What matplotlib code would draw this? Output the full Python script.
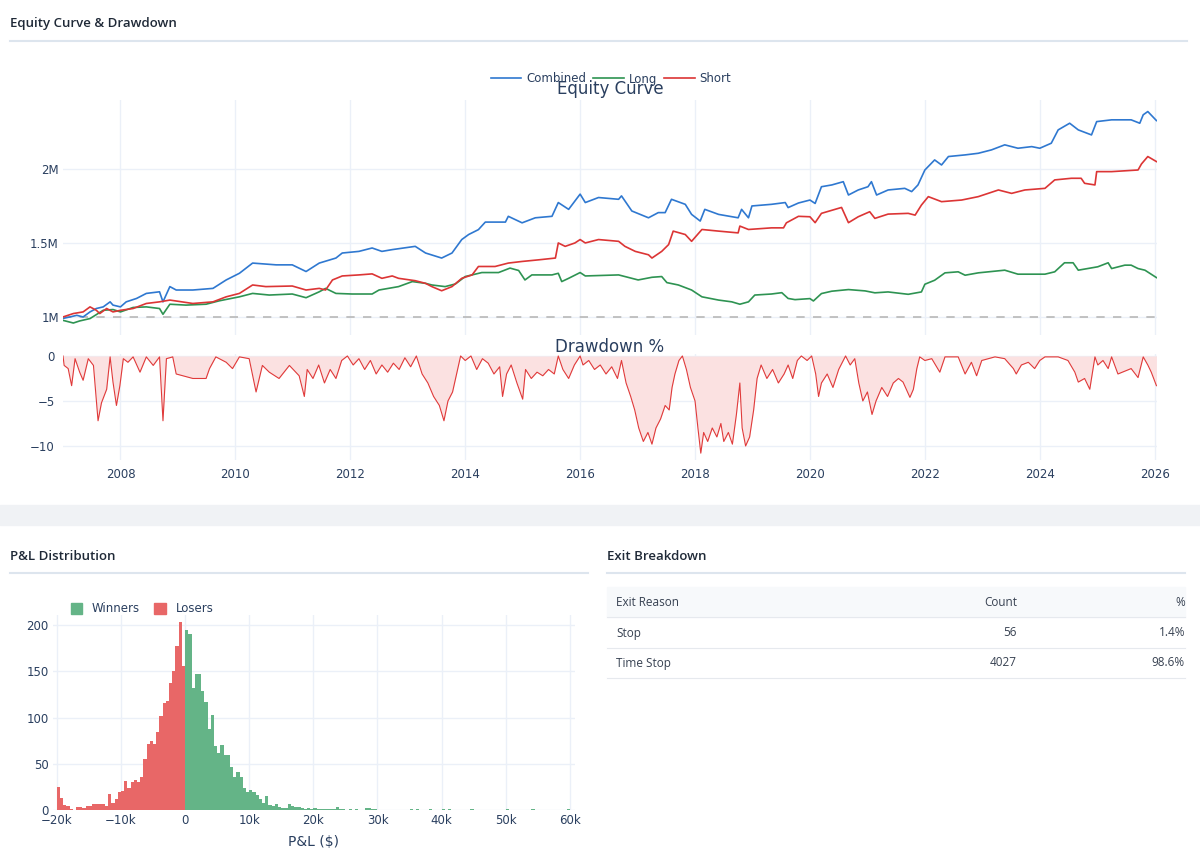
import matplotlib.pyplot as plt
from matplotlib.lines import Line2D
from matplotlib.patches import Patch, Rectangle

# ---- equity curves (value in $M, x in fractional years) ----
COMBINED_T = [2007.0, 2007.12, 2007.24, 2007.35, 2007.47, 2007.58, 2007.70, 2007.82, 2007.87, 2008.0,
              2008.10, 2008.28, 2008.45, 2008.68, 2008.74, 2008.86, 2008.97, 2009.26, 2009.61, 2009.84,
              2010.07, 2010.30, 2010.71, 2010.99, 2011.23, 2011.46, 2011.75, 2011.86, 2012.15, 2012.38,
              2012.55, 2012.73, 2013.13, 2013.31, 2013.59, 2013.77, 2013.94, 2014.06, 2014.23, 2014.35,
              2014.70, 2014.75, 2014.99, 2015.22, 2015.51, 2015.62, 2015.80, 2016.0, 2016.09, 2016.32,
              2016.67, 2016.72, 2016.90, 2017.19, 2017.36, 2017.48, 2017.59, 2017.83, 2017.94, 2018.09,
              2018.17, 2018.41, 2018.75, 2018.81, 2018.93, 2018.99, 2019.33, 2019.57, 2019.62, 2019.80,
              2020.0, 2020.09, 2020.20, 2020.38, 2020.58, 2020.67, 2020.84, 2021.01, 2021.07, 2021.16,
              2021.36, 2021.65, 2021.77, 2021.88, 2022.0, 2022.17, 2022.29, 2022.41, 2022.70, 2022.93,
              2023.16, 2023.39, 2023.62, 2023.86, 2024.0, 2024.20, 2024.32, 2024.52, 2024.67, 2024.90,
              2024.99, 2025.25, 2025.59, 2025.74, 2025.80, 2025.88, 2026.03]
COMBINED_V = [0.99, 1.0, 1.011, 1.0, 1.034, 1.057, 1.068, 1.102, 1.08, 1.068,
              1.102, 1.125, 1.159, 1.17, 1.102, 1.205, 1.182, 1.182, 1.193, 1.25,
              1.295, 1.364, 1.352, 1.352, 1.307, 1.364, 1.398, 1.432, 1.443, 1.466,
              1.443, 1.455, 1.477, 1.432, 1.398, 1.432, 1.523, 1.557, 1.59, 1.641,
              1.641, 1.68, 1.636, 1.67, 1.68, 1.773, 1.727, 1.83, 1.773, 1.807,
              1.795, 1.818, 1.716, 1.67, 1.705, 1.705, 1.795, 1.761, 1.693, 1.648,
              1.727, 1.693, 1.67, 1.727, 1.67, 1.75, 1.761, 1.773, 1.739, 1.77,
              1.79, 1.767, 1.88, 1.892, 1.914, 1.824, 1.858, 1.88, 1.914, 1.824,
              1.858, 1.869, 1.847, 1.892, 1.993, 2.061, 2.027, 2.084, 2.095, 2.106,
              2.129, 2.163, 2.14, 2.151, 2.14, 2.174, 2.264, 2.309, 2.264, 2.23,
              2.32, 2.332, 2.332, 2.309, 2.366, 2.388, 2.327]

LONG_T = [2007.0, 2007.18, 2007.29, 2007.47, 2007.70, 2007.87, 2008.0, 2008.22, 2008.45, 2008.68,
          2008.74, 2008.86, 2009.14, 2009.49, 2009.72, 2010.07, 2010.30, 2010.59, 2010.99, 2011.23,
          2011.46, 2011.57, 2011.75, 2012.03, 2012.38, 2012.50, 2012.84, 2013.08, 2013.31, 2013.42,
          2013.65, 2013.83, 2014.0, 2014.29, 2014.58, 2014.78, 2014.93, 2015.04, 2015.16, 2015.51,
          2015.62, 2015.68, 2015.80, 2016.0, 2016.09, 2016.67, 2016.90, 2017.01, 2017.25, 2017.42,
          2017.51, 2017.71, 2017.94, 2018.12, 2018.41, 2018.64, 2018.78, 2018.93, 2019.04, 2019.33,
          2019.51, 2019.62, 2019.74, 2020.0, 2020.06, 2020.20, 2020.38, 2020.67, 2020.96, 2021.13,
          2021.36, 2021.71, 2021.94, 2022.0, 2022.17, 2022.35, 2022.58, 2022.70, 2022.93, 2023.39,
          2023.62, 2024.09, 2024.26, 2024.43, 2024.58, 2024.67, 2025.01, 2025.19, 2025.25, 2025.48,
          2025.59, 2025.71, 2025.83, 2026.03]
LONG_V = [0.977, 0.959, 0.973, 0.989, 1.045, 1.05, 1.034, 1.064, 1.068, 1.057,
          1.018, 1.086, 1.08, 1.086, 1.109, 1.136, 1.159, 1.148, 1.155, 1.13,
          1.17, 1.193, 1.159, 1.155, 1.155, 1.182, 1.205, 1.239, 1.227, 1.216,
          1.205, 1.223, 1.273, 1.30, 1.30, 1.33, 1.314, 1.25, 1.284, 1.284,
          1.295, 1.239, 1.261, 1.30, 1.277, 1.284, 1.261, 1.25, 1.268, 1.273,
          1.232, 1.216, 1.182, 1.136, 1.114, 1.102, 1.086, 1.102, 1.148, 1.155,
          1.164, 1.125, 1.117, 1.124, 1.108, 1.158, 1.174, 1.185, 1.176, 1.163,
          1.169, 1.153, 1.169, 1.221, 1.248, 1.298, 1.305, 1.282, 1.298, 1.316,
          1.289, 1.289, 1.305, 1.366, 1.366, 1.316, 1.339, 1.366, 1.327, 1.35,
          1.35, 1.327, 1.316, 1.266]

SHORT_T = [2007.0, 2007.18, 2007.35, 2007.47, 2007.58, 2007.64, 2007.76, 2007.87, 2008.0, 2008.22,
           2008.45, 2008.68, 2008.86, 2009.26, 2009.61, 2009.84, 2010.07, 2010.30, 2010.53, 2010.99,
           2011.23, 2011.46, 2011.57, 2011.69, 2011.86, 2012.15, 2012.38, 2012.55, 2012.73, 2012.84,
           2013.13, 2013.31, 2013.42, 2013.59, 2013.77, 2013.94, 2014.12, 2014.23, 2014.52, 2014.75,
           2014.99, 2015.28, 2015.57, 2015.62, 2015.74, 2015.91, 2016.0, 2016.09, 2016.32, 2016.67,
           2016.78, 2016.96, 2017.19, 2017.25, 2017.42, 2017.54, 2017.62, 2017.83, 2017.94, 2018.12,
           2018.41, 2018.75, 2018.78, 2018.93, 2019.33, 2019.54, 2019.59, 2019.80, 2020.0, 2020.09,
           2020.20, 2020.55, 2020.67, 2020.84, 2021.04, 2021.13, 2021.36, 2021.71, 2021.83, 2021.94,
           2022.06, 2022.29, 2022.64, 2022.93, 2023.28, 2023.51, 2023.74, 2024.09, 2024.26, 2024.55,
           2024.72, 2024.78, 2024.96, 2024.99, 2025.25, 2025.71, 2025.77, 2025.88, 2026.03]
SHORT_V = [1.0, 1.023, 1.034, 1.068, 1.045, 1.023, 1.057, 1.034, 1.045, 1.057,
           1.091, 1.102, 1.114, 1.091, 1.102, 1.136, 1.159, 1.216, 1.205, 1.209,
           1.182, 1.193, 1.182, 1.25, 1.277, 1.284, 1.291, 1.261, 1.277, 1.261,
           1.245, 1.227, 1.205, 1.177, 1.205, 1.261, 1.284, 1.341, 1.341, 1.364,
           1.375, 1.386, 1.398, 1.50, 1.477, 1.50, 1.523, 1.50, 1.523, 1.511,
           1.477, 1.443, 1.42, 1.398, 1.443, 1.489, 1.58, 1.557, 1.511, 1.591,
           1.58, 1.568, 1.614, 1.591, 1.602, 1.602, 1.636, 1.68, 1.677, 1.637,
           1.70, 1.74, 1.637, 1.677, 1.711, 1.666, 1.695, 1.70, 1.688, 1.756,
           1.813, 1.779, 1.79, 1.813, 1.858, 1.835, 1.858, 1.869, 1.926, 1.937,
           1.937, 1.903, 1.892, 1.982, 1.982, 1.993, 2.034, 2.084, 2.05]

START_EQUITY = 1.0

# ---- drawdown % ----
DD_T = [2007.0, 2007.02, 2007.09, 2007.15, 2007.21, 2007.29, 2007.35, 2007.44, 2007.53, 2007.61,
        2007.67, 2007.76, 2007.82, 2007.87, 2007.93, 2007.99, 2008.05, 2008.13, 2008.22, 2008.34,
        2008.45, 2008.57, 2008.68, 2008.74, 2008.80, 2008.91, 2008.97, 2009.26, 2009.49, 2009.55,
        2009.66, 2009.84, 2009.95, 2010.07, 2010.24, 2010.36, 2010.47, 2010.59, 2010.76, 2010.94,
        2011.11, 2011.2, 2011.25, 2011.35, 2011.45, 2011.55, 2011.65, 2011.75, 2011.85, 2011.95,
        2012.05, 2012.15, 2012.25, 2012.35, 2012.45, 2012.55, 2012.65, 2012.75, 2012.85, 2012.95,
        2013.05, 2013.15, 2013.25, 2013.35, 2013.45, 2013.55, 2013.63, 2013.7, 2013.78, 2013.85,
        2013.92, 2014.0, 2014.1, 2014.2, 2014.3, 2014.4, 2014.5, 2014.6, 2014.65, 2014.72,
        2014.8, 2014.9, 2015.0, 2015.05, 2015.15, 2015.25, 2015.35, 2015.45, 2015.55, 2015.62,
        2015.7, 2015.8, 2015.9, 2016.0, 2016.05, 2016.15, 2016.25, 2016.35, 2016.45, 2016.55,
        2016.65, 2016.72, 2016.8, 2016.88, 2016.95, 2017.02, 2017.1, 2017.18, 2017.25, 2017.32,
        2017.4, 2017.48, 2017.55, 2017.6, 2017.65, 2017.72, 2017.78, 2017.85, 2017.92, 2018.0,
        2018.05, 2018.1, 2018.15, 2018.22, 2018.3, 2018.38, 2018.45, 2018.5, 2018.58, 2018.65,
        2018.72, 2018.78, 2018.82, 2018.88, 2018.95, 2019.02, 2019.08, 2019.15, 2019.25, 2019.35,
        2019.45, 2019.55, 2019.62, 2019.7, 2019.78, 2019.85, 2019.95, 2020.03, 2020.1, 2020.15,
        2020.2, 2020.3, 2020.4, 2020.5, 2020.58, 2020.62, 2020.7, 2020.78, 2020.85, 2020.92,
        2021.0, 2021.08, 2021.15, 2021.25, 2021.35, 2021.45, 2021.54, 2021.62, 2021.74, 2021.80,
        2021.86, 2021.91, 2022.0, 2022.12, 2022.26, 2022.35, 2022.58, 2022.70, 2022.81, 2022.90,
        2022.99, 2023.22, 2023.39, 2023.54, 2023.59, 2023.68, 2023.80, 2023.91, 2024.0, 2024.09,
        2024.32, 2024.49, 2024.61, 2024.67, 2024.78, 2024.87, 2024.96, 2025.01, 2025.10, 2025.19,
        2025.25, 2025.36, 2025.59, 2025.71, 2025.80, 2025.88, 2025.94, 2026.03]
DD_V = [0.0, -1.05, -1.4, -3.3, -0.3, -1.8, -2.7, -0.3, -1.05, -7.2,
        -5.2, -3.7, -0.1, -2.9, -5.5, -3.3, -0.3, -0.7, -0.1, -1.8,
        -0.1, -1.05, -0.1, -7.2, -0.3, -0.1, -2.0, -2.5, -2.5, -1.4,
        -0.1, -0.7, -1.4, -0.1, -0.3, -4.0, -1.05, -1.8, -2.5, -1.05,
        -2.2, -4.5, -1.5, -2.5, -1.0, -3.0, -1.5, -2.5, -0.5, 0.0,
        -1.0, -0.3, -1.5, -0.5, -2.0, -1.0, -1.8, -0.8, -1.5, -0.2,
        -1.2, 0.0, -2.0, -3.0, -4.5, -5.5, -7.2, -5.0, -4.0, -2.0,
        0.0, -0.5, 0.0, -1.5, -0.3, -0.8, -2.0, -1.2, -4.5, -2.0,
        -1.0, -3.0, -4.8, -1.5, -2.5, -1.8, -2.2, -1.5, -2.0, 0.0,
        -1.5, -2.5, -1.0, 0.0, -1.0, -0.5, -1.5, -1.0, -2.0, -1.2,
        -2.5, -0.5, -3.0, -4.5, -6.0, -8.0, -9.5, -8.5, -9.8, -8.0,
        -7.0, -5.5, -6.0, -3.5, -2.0, -0.5, 0.0, -1.5, -3.5, -5.0,
        -8.0, -10.8, -8.5, -9.5, -8.0, -9.0, -7.5, -9.5, -8.5, -9.8,
        -6.5, -3.0, -8.0, -10.0, -9.0, -6.0, -2.5, -1.0, -2.5, -1.5,
        -3.0, -2.0, -1.0, -2.5, -0.5, 0.0, -0.5, 0.0, -2.0, -4.5,
        -3.0, -2.0, -3.5, -1.5, -0.5, 0.0, -1.0, -0.3, -3.0, -5.0,
        -4.0, -6.5, -5.0, -3.5, -4.5, -3.0, -2.5, -2.9, -4.6, -3.7,
        -1.4, -0.1, -0.5, -0.3, -1.8, -0.1, -0.1, -2.0, -0.7, -2.2,
        -0.5, -0.1, -0.3, -1.4, -2.0, -1.0, -0.7, -1.4, -0.5, -0.1,
        -0.1, -0.5, -1.8, -2.9, -2.5, -3.7, -0.1, -1.0, -0.5, -1.4,
        -0.1, -2.0, -1.4, -2.4, -0.1, -1.0, -1.8, -3.3]

# ---- P&L histogram (bin width $500) ----
BIN_WIDTH = 500
LOSER_START = -20000
LOSER_COUNTS = [25, 13, 5, 4, 1, 0, 3, 3, 2, 4, 4, 6, 7, 7, 6, 4, 17, 8, 12, 20,
                21, 31, 24, 30, 33, 30, 36, 55, 71, 75, 71, 84, 102, 116, 118, 137, 150, 177, 203, 156]
WINNER_START = 0
WINNER_COUNTS = [195, 190, 132, 147, 147, 129, 117, 88, 103, 69, 62, 70, 60, 59, 46, 36, 41, 36, 24, 20,
                 22, 20, 16, 12, 8, 15, 5, 4, 6, 3, 2, 2, 6, 4, 3, 3, 2, 1, 2, 1,
                 2, 1, 1, 1, 1, 1, 1, 3, 1, 1, 0, 1, 0, 1, 0, 0, 2, 2, 1, 1]
WINNER_OUTLIERS = [35000, 36000, 38000, 40000, 41000, 44500, 50000, 54000, 59500]

# ---- exit breakdown table ----
EXIT_REASONS = ["Stop", "Time Stop"]
EXIT_COUNTS = [56, 4027]
EXIT_PCTS = ["1.4%", "98.6%"]

BLUE, GREEN, RED = "#2f78d0", "#2e9352", "#dc3535"
TICK_C = "#2a3f5f"
GRID_C = "#ebf0f8"
HEAD_C = "#1f2937"
W, H = 1200, 860


def fx(px):
    return px / W


def fy(py):
    return 1 - py / H


def style_axes(ax):
    for s in ax.spines.values():
        s.set_visible(False)
    ax.tick_params(length=0, labelsize=8.5, labelcolor=TICK_C, pad=3)
    ax.grid(True, color=GRID_C, lw=1)
    ax.set_axisbelow(True)


fig = plt.figure(figsize=(12, 8.6), dpi=100)
fig.patch.set_facecolor("white")
fig.patches.append(Rectangle((0, fy(525)), 1, 20 / H, transform=fig.transFigure,
                             color="#f0f2f5", zorder=0))

# section headings
for x0, x1, y, label in [(10, 1187, 23, "Equity Curve & Drawdown"),
                         (10, 588, 556, "P&L Distribution"),
                         (607, 1185, 556, "Exit Breakdown")]:
    fig.text(fx(x0), fy(y), label, fontsize=9.5, weight="semibold", color=HEAD_C,
             va="center", family="Open Sans")
    fig.add_artist(Line2D([fx(x0), fx(x1)], [fy(41 if y == 23 else 573)] * 2,
                          color="#dde5ee", lw=1.5, transform=fig.transFigure))

# equity curve
ax1 = fig.add_axes([fx(63), fy(335), fx(1157) - fx(63), fy(100) - fy(335)])
style_axes(ax1)
ax1.plot(COMBINED_T, COMBINED_V, color=BLUE, lw=1.2, label="Combined")
ax1.plot(LONG_T, LONG_V, color=GREEN, lw=1.2, label="Long")
ax1.plot(SHORT_T, SHORT_V, color=RED, lw=1.2, label="Short")
ax1.axhline(START_EQUITY, color="#b8b8b8", lw=1.2, ls=(0, (5, 5)), zorder=1)
ax1.set_xlim(2007.0, 2026.04)
ax1.set_ylim(0.878, 2.466)
ax1.set_xticks(range(2008, 2027, 2))
ax1.set_xticklabels([])
ax1.set_yticks([1, 1.5, 2])
ax1.set_yticklabels(["1M", "1.5M", "2M"])
fig.legend(loc="center", bbox_to_anchor=(fx(611), fy(79)), ncol=3, frameon=False,
           fontsize=8.5, handlelength=2.6, columnspacing=0.6, handletextpad=0.4,
           labelcolor=TICK_C)
fig.text(fx(610), fy(89), "Equity Curve", ha="center", va="center", fontsize=12, color=TICK_C)

# drawdown
ax2 = fig.add_axes([fx(63), fy(460), fx(1157) - fx(63), fy(354) - fy(460)])
style_axes(ax2)
ax2.fill_between(DD_T, DD_V, 0, color="#fbe1e1", lw=0)
ax2.plot(DD_T, DD_V, color="#e03a3a", lw=0.8)
ax2.set_xlim(2007.0, 2026.04)
ax2.set_ylim(-11.56, 0.22)
ax2.set_xticks(range(2008, 2027, 2))
ax2.set_yticks([0, -5, -10])
ax2.tick_params(axis="y", pad=6)
ax2.tick_params(axis="x", pad=6)
fig.text(fx(610), fy(347), "Drawdown %", ha="center", va="center", fontsize=12, color=TICK_C)

# P&L histogram
ax3 = fig.add_axes([fx(53), fy(810), fx(575) - fx(53), fy(615) - fy(810)])
style_axes(ax3)
lose_edges = [LOSER_START + i * BIN_WIDTH for i in range(len(LOSER_COUNTS))]
win_edges = [WINNER_START + i * BIN_WIDTH for i in range(len(WINNER_COUNTS))]
ax3.bar(win_edges, WINNER_COUNTS, width=BIN_WIDTH, align="edge", color="#64b487", lw=0)
ax3.bar(WINNER_OUTLIERS, [1] * len(WINNER_OUTLIERS), width=BIN_WIDTH, align="edge",
        color="#64b487", lw=0)
ax3.bar(lose_edges, LOSER_COUNTS, width=BIN_WIDTH, align="edge", color="#e86767", lw=0)
ax3.set_xlim(-20600, 60800)
ax3.set_ylim(0, 211)
ax3.set_xticks(range(-20000, 60001, 10000))
ax3.set_xticklabels(["\u221220k", "\u221210k", "0", "10k", "20k", "30k", "40k", "50k", "60k"])
ax3.set_yticks(range(0, 201, 50))
ax3.grid(axis="y", color=GRID_C, lw=1)
ax3.set_xlabel("P&L ($)", fontsize=10, color=TICK_C, labelpad=6)
fig.legend(handles=[Patch(color="#64b487", label="Winners"), Patch(color="#e86767", label="Losers")],
           loc="center left", bbox_to_anchor=(fx(60), fy(609)), ncol=2, frameon=False,
           fontsize=8.5, handlelength=1.0, handleheight=1.0, columnspacing=1.2,
           handletextpad=0.8, labelcolor=TICK_C)

# exit breakdown table
fig.patches.append(Rectangle((fx(607), fy(617)), fx(1185) - fx(607), 30 / H,
                             transform=fig.transFigure, color="#f7f9fb", zorder=0))
for yl in [617, 648, 678]:
    fig.add_artist(Line2D([fx(607), fx(1185)], [fy(yl)] * 2, color="#e6e9ee", lw=0.8,
                          transform=fig.transFigure))
TXT = dict(fontsize=8.5, color="#374151", va="center", family="Open Sans")
fig.text(fx(616), fy(602), "Exit Reason", **TXT)
fig.text(fx(1017), fy(602), "Count", ha="right", **TXT)
fig.text(fx(1185), fy(602), "%", ha="right", **TXT)
for i, (reason, cnt, pct) in enumerate(zip(EXIT_REASONS, EXIT_COUNTS, EXIT_PCTS)):
    y = 633 + 30 * i
    fig.text(fx(616), fy(y), reason, **TXT)
    fig.text(fx(1017), fy(y), str(cnt), ha="right", **TXT)
    fig.text(fx(1185), fy(y), pct, ha="right", **TXT)

fig.savefig("out.png", dpi=100)
